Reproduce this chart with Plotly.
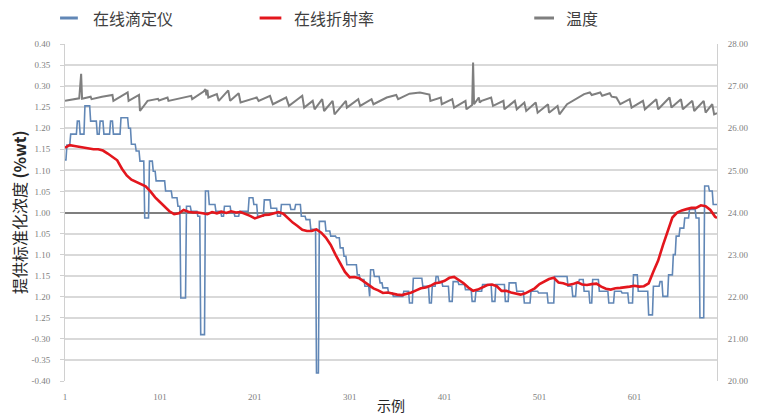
import numpy as np
import plotly.graph_objects as go

# Sample axis
N_SAMPLES = 688
x_tick_vals = [1, 101, 201, 301, 401, 501, 601]
x_tick_text = ["1", "101", "201", "301", "401", "501", "601"]

# Left axis ticks (deviation scale with its printed labels)
y_tick_vals = [-0.40, -0.35, -0.30, -0.25, -0.20, -0.15, -0.10, -0.05, 0.00,
               0.05, 0.10, 0.15, 0.20, 0.25, 0.30, 0.35, 0.40]
y_tick_text = ["-0.40", "-0.35", "-0.30", "1.25", "1.20", "1.15", "1.10", "1.05", "1.00",
               "1.05", "1.10", "1.15", "1.20", "1.25", "0.30", "0.35", "0.40"]

# Right axis ticks (temperature)
t_tick_vals = [20, 21, 22, 23, 24, 25, 26, 27, 28]

# Online titrator: held readings, given as (first sample of the hold, value)
tit_start = [1, 3, 7, 14, 17, 22, 28, 35, 38, 42, 49, 52, 60, 68, 71, 76, 80, 85, 90, 94,
             97, 107, 114, 120, 123, 129, 134, 141, 144, 149, 153, 160, 166, 169, 176, 180,
             185, 195, 200, 204, 211, 218, 225, 229, 239, 244, 250, 255, 260, 266, 269, 276,
             281, 287, 291, 295, 298, 309, 312, 317, 322, 323, 327, 333, 336, 342, 347, 358,
             364, 368, 378, 385, 388, 392, 395, 399, 406, 410, 416, 423, 430, 434, 441, 451,
             455, 465, 469, 477, 485, 492, 500, 510, 517, 531, 536, 540, 543, 548, 554, 557,
             564, 574, 580, 588, 595, 600, 605, 616, 621, 628, 631, 637, 642, 645, 649, 654,
             659, 666, 670, 675, 680, 684]
tit_val = [0.125, 0.160, 0.186, 0.217, 0.186, 0.253, 0.217, 0.186, 0.217, 0.186, 0.217, 0.186,
           0.225, 0.200, 0.162, 0.146, 0.122, -0.013, 0.122, 0.098, 0.075, 0.051, 0.035, 0.015,
           -0.203, 0.015, 0.003, -0.009, -0.290, 0.051, 0.019, 0.003, -0.009, 0.015, 0.000,
           -0.009, 0.003, 0.035, 0.019, -0.009, 0.030, 0.010, -0.009, 0.019, 0.007, 0.019,
           -0.009, -0.017, -0.040, -0.381, -0.021, -0.044, -0.056, -0.060, -0.084, -0.104,
           -0.124, -0.148, -0.159, -0.175, -0.199, -0.136, -0.152, -0.167, -0.179, -0.191,
           -0.199, -0.187, -0.215, -0.156, -0.175, -0.215, -0.175, -0.152, -0.164, -0.175,
           -0.211, -0.164, -0.171, -0.183, -0.211, -0.187, -0.171, -0.211, -0.171, -0.211,
           -0.167, -0.187, -0.215, -0.187, -0.191, -0.215, -0.152, -0.175, -0.199, -0.167,
           -0.159, -0.187, -0.215, -0.159, -0.187, -0.215, -0.187, -0.191, -0.215, -0.148,
           -0.187, -0.243, -0.175, -0.164, -0.199, -0.148, -0.100, -0.056, -0.037, -0.013,
           0.007, -0.013, -0.250, 0.063, 0.051, 0.019]

# Online refractometer: every fifth sample
refr_idx = list(range(1, 687, 5)) + [688]
refr_val = [0.154, 0.160, 0.158, 0.156, 0.155, 0.153, 0.150, 0.150, 0.147, 0.140,
            0.133, 0.124, 0.104, 0.088, 0.078, 0.073, 0.068, 0.062, 0.050, 0.036,
            0.025, 0.013, 0.003, -0.004, -0.002, 0.006, 0.002, 0.000, 0.000, -0.002,
            -0.004, 0.001, -0.002, 0.002, -0.001, 0.003, 0.000, 0.001, -0.003, -0.008,
            -0.014, -0.010, -0.006, -0.005, -0.002, 0.001, -0.003, -0.014, -0.024, -0.032,
            -0.041, -0.044, -0.044, -0.040, -0.048, -0.060, -0.077, -0.100, -0.122, -0.141,
            -0.154, -0.153, -0.156, -0.164, -0.174, -0.180, -0.185, -0.191, -0.190, -0.193,
            -0.195, -0.196, -0.193, -0.190, -0.185, -0.180, -0.178, -0.174, -0.168, -0.166,
            -0.162, -0.155, -0.153, -0.160, -0.168, -0.178, -0.186, -0.183, -0.178, -0.172,
            -0.171, -0.175, -0.186, -0.186, -0.190, -0.193, -0.195, -0.192, -0.186, -0.180,
            -0.170, -0.163, -0.158, -0.155, -0.166, -0.168, -0.172, -0.170, -0.166, -0.171,
            -0.172, -0.170, -0.169, -0.176, -0.181, -0.183, -0.180, -0.179, -0.178, -0.176,
            -0.174, -0.176, -0.175, -0.168, -0.140, -0.114, -0.078, -0.045, -0.012, 0.000,
            0.005, 0.008, 0.011, 0.011, 0.017, 0.015, 0.006, -0.010,
            -0.013]

# Temperature: vertices of the saw-tooth trace (sample, degrees)
temp_idx = [1, 16, 18, 19, 28, 29, 40, 51, 52, 67, 68, 79, 80, 88, 99, 100, 109, 110, 134,
            135, 147, 149, 150, 151, 152, 161, 163, 173, 175, 184, 186, 203, 205, 217, 220,
            234, 237, 251, 253, 262, 264, 272, 274, 283, 285, 297, 298, 310, 312, 324, 326,
            340, 350, 352, 364, 375, 385, 386, 397, 398, 409, 411, 423, 424, 430, 431, 432,
            437, 438, 440, 450, 452, 463, 464, 475, 477, 485, 487, 497, 499, 510, 511, 520,
            522, 530, 548, 554, 556, 565, 567, 575, 577, 582, 586, 596, 598, 610, 612, 624,
            626, 638, 640, 650, 652, 662, 664, 674, 676, 683, 685, 688]
temp_val = [26.65, 26.71, 27.29, 26.70, 26.75, 26.69, 26.75, 26.79, 26.65, 26.85, 26.65,
            26.79, 26.41, 26.65, 26.70, 26.66, 26.73, 26.65, 26.77, 26.69, 26.87, 26.93,
            26.78, 26.91, 26.73, 26.81, 26.65, 26.90, 26.65, 26.83, 26.61, 26.73, 26.65,
            26.77, 26.57, 26.73, 26.53, 26.77, 26.49, 26.65, 26.45, 26.69, 26.41, 26.65,
            26.33, 26.65, 26.49, 26.69, 26.53, 26.69, 26.57, 26.73, 26.79, 26.69, 26.82,
            26.85, 26.80, 26.65, 26.73, 26.57, 26.69, 26.49, 26.65, 26.45, 26.55, 27.56,
            26.57, 26.73, 26.61, 26.65, 26.73, 26.53, 26.65, 26.45, 26.65, 26.45, 26.61,
            26.41, 26.61, 26.37, 26.57, 26.37, 26.53, 26.33, 26.57, 26.81, 26.85, 26.79,
            26.85, 26.77, 26.83, 26.75, 26.73, 26.57, 26.69, 26.49, 26.65, 26.45, 26.69,
            26.45, 26.73, 26.49, 26.69, 26.45, 26.65, 26.41, 26.65, 26.37, 26.57, 26.33,
            26.36]

series_names = ["在线滴定仪", "在线折射率", "温度"]
series_colors = ["#6187b6", "#e3161d", "#7f7f7f"]

# Expand the held titrator readings to one value per sample
hold_len = np.diff(tit_start + [N_SAMPLES + 1])
titration = np.repeat(tit_val, hold_len)
sample_idx = np.arange(1, N_SAMPLES + 1)

fig = go.Figure()
fig.add_trace(go.Scatter(x=sample_idx, y=titration, mode="lines", name=series_names[0],
                         line=dict(color=series_colors[0], width=1.6)))
fig.add_trace(go.Scatter(x=refr_idx, y=refr_val, mode="lines", name=series_names[1],
                         line=dict(color=series_colors[1], width=2.6)))
fig.add_trace(go.Scatter(x=temp_idx, y=temp_val, mode="lines", name=series_names[2],
                         yaxis="y2", line=dict(color=series_colors[2], width=2)))

# Plot-area geometry in pixels, used to place the legend and axis titles
L, R, T, B = 65, 36, 44, 35
W, H = 761, 416
pw, ph = W - L - R, H - T - B


def px_x(p):
    return (p - L) / pw


def px_y(p):
    return (H - B - p) / ph


tick_font = dict(family="Liberation Serif", size=9, color="#808080")
cjk = "Noto Sans CJK SC"

# Legend drawn as line samples with labels across the top
legend_items = [(60, 78, 91), (262, 284, 295), (540, 560, 570)]
shapes = []
annotations = []
for (x0, x1, tx), name, col in zip(legend_items, series_names, series_colors):
    shapes.append(dict(type="line", xref="paper", yref="paper",
                       x0=px_x(x0), x1=px_x(x1), y0=px_y(18), y1=px_y(18),
                       line=dict(color=col, width=3)))
    annotations.append(dict(text=name, xref="paper", yref="paper", x=px_x(tx), y=px_y(18),
                            xanchor="left", yanchor="middle", showarrow=False,
                            font=dict(family=cjk, size=16, color="#404040")))

annotations.append(dict(text="提供标准化浓度 <b>(%wt)</b>", textangle=-90, xref="paper",
                        yref="paper", x=px_x(18), y=0.5, xanchor="center", yanchor="middle",
                        showarrow=False, font=dict(family=cjk, size=16, color="#262626")))
annotations.append(dict(text="示例", xref="paper", yref="paper", x=0.5, y=px_y(405),
                        xanchor="center", yanchor="middle", showarrow=False,
                        font=dict(family=cjk, size=14, color="#262626")))

fig.update_layout(
    width=W, height=H,
    margin=dict(l=L, r=R, t=T, b=B),
    paper_bgcolor="white", plot_bgcolor="white",
    showlegend=False,
    shapes=shapes, annotations=annotations,
    xaxis=dict(range=[1, N_SAMPLES], tickmode="array", tickvals=x_tick_vals,
               ticktext=x_tick_text, showgrid=False, zeroline=False, showline=False,
               ticks="", tickfont=tick_font, ticklabelstandoff=9),
    yaxis=dict(range=[-0.40, 0.40], tickmode="array", tickvals=y_tick_vals,
               ticktext=y_tick_text, showgrid=True, gridcolor="#d9d9d9", gridwidth=1.5,
               zeroline=True, zerolinecolor="#7f7f7f", zerolinewidth=1.6,
               showline=True, linecolor="#d0d0d0", linewidth=1,
               ticks="outside", ticklen=4, tickcolor="#d0d0d0",
               tickfont=tick_font, ticklabelstandoff=8),
    yaxis2=dict(range=[20, 28], overlaying="y", side="right", tickmode="array",
                tickvals=t_tick_vals, tickformat=".2f", showgrid=False, zeroline=False,
                showline=True, linecolor="#d0d0d0", linewidth=1, ticks="",
                tickfont=tick_font, ticklabelstandoff=8),
)

fig.write_html("out.html")
